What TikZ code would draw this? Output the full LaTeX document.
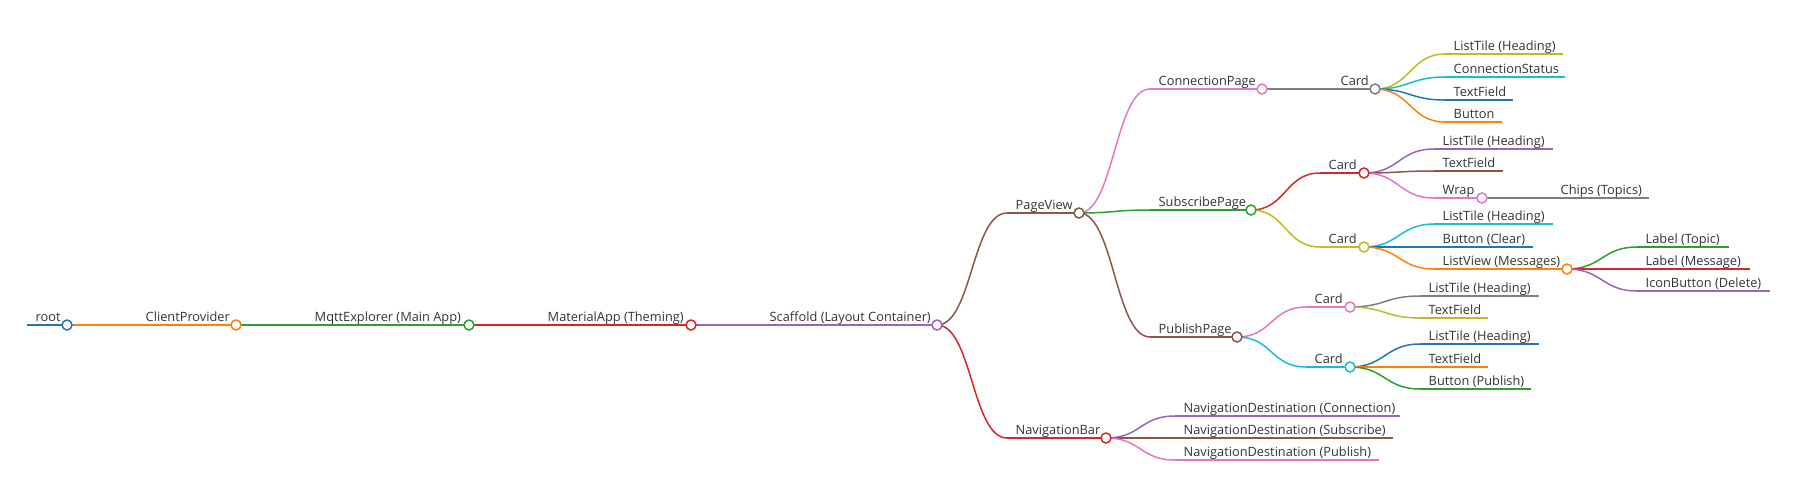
\documentclass[tikz,border=0pt]{standalone}
\usepackage{fontspec}
\setmainfont{Open Sans}
\usetikzlibrary{calc}

\definecolor{mmblue}{HTML}{1F77B4}
\definecolor{mmorange}{HTML}{FF7F0E}
\definecolor{mmgreen}{HTML}{2CA02C}
\definecolor{mmred}{HTML}{D62728}
\definecolor{mmpurple}{HTML}{9467BD}
\definecolor{mmbrown}{HTML}{8C564B}
\definecolor{mmpink}{HTML}{E377C2}
\definecolor{mmgray}{HTML}{7F7F7F}
\definecolor{mmolive}{HTML}{BCBD22}
\definecolor{mmcyan}{HTML}{17BECF}
\definecolor{mmink}{HTML}{333333}

\tikzset{
  mmline/.style={line width=1.5pt},
  mmtext/.style={anchor=base west, inner sep=0pt, text=mmink, font=\fontsize{12.8}{14}\selectfont},
  mmdot/.style={circle, draw, fill=white, line width=1.5pt, inner sep=0pt, minimum size=10pt},
}

% one entry of the map: name, colour, line start, line end, y, label
\newcommand{\mmitem}[6]{
  \coordinate (#1-s) at (#3,#5);
  \coordinate (#1-e) at (#4,#5);
  \draw[mmline,#2] (#1-s) -- (#1-e);
  \node[mmtext] (#1) at ($(#1-s)+(8.5,-3.5)$) {#6};
}
\newcommand{\mmlink}[3]{
  \draw[mmline,#3] (#1-e) .. controls ($(#1-e)+(35,0)$) and ($(#2-s)-(35,0)$) .. (#2-s);
}
\newcommand{\mmknot}[2]{\node[mmdot,draw=#2] (#1-dot) at (#1-e) {};}

\begin{document}
\begin{tikzpicture}[x=1pt,y=-1pt]
  \useasboundingbox (0,0) rectangle (1793,499);

  % main chain
  \mmitem{root}{mmblue}{27}{67}{325}{root}
  \mmitem{client}{mmorange}{137}{236}{325}{ClientProvider}
  \mmitem{mqtt}{mmgreen}{306}{469}{325}{MqttExplorer (Main App)}
  \mmitem{material}{mmred}{539}{691}{325}{MaterialApp (Theming)}
  \mmitem{scaffold}{mmpurple}{761}{937}{325}{Scaffold (Layout Container)}
  \mmitem{pageview}{mmbrown}{1007}{1079}{213}{PageView}
  \mmitem{navbar}{mmred}{1007}{1106}{438}{NavigationBar}

  % pages
  \mmitem{connpage}{mmpink}{1150}{1262}{89}{ConnectionPage}
  \mmitem{subpage}{mmgreen}{1150}{1251}{210}{SubscribePage}
  \mmitem{pubpage}{mmbrown}{1150}{1237}{337}{PublishPage}

  % connection page
  \mmitem{conncard}{mmgray}{1332}{1375}{89}{Card}
  \mmitem{c-list}{mmolive}{1445}{1563}{54}{ListTile (Heading)}
  \mmitem{c-status}{mmcyan}{1445}{1565}{77}{ConnectionStatus}
  \mmitem{c-text}{mmblue}{1445}{1513}{100}{TextField}
  \mmitem{c-button}{mmorange}{1445}{1502}{122}{Button}

  % subscribe page
  \mmitem{subcard1}{mmred}{1320}{1364}{173}{Card}
  \mmitem{s1-list}{mmpurple}{1434}{1553}{149}{ListTile (Heading)}
  \mmitem{s1-text}{mmbrown}{1434}{1503}{171}{TextField}
  \mmitem{s1-wrap}{mmpink}{1434}{1482}{198}{Wrap}
  \mmitem{chips}{mmgray}{1552}{1649}{198}{Chips (Topics)}
  \mmitem{subcard2}{mmolive}{1320}{1364}{247}{Card}
  \mmitem{s2-list}{mmcyan}{1434}{1553}{224}{ListTile (Heading)}
  \mmitem{s2-clear}{mmblue}{1434}{1533}{247}{Button (Clear)}
  \mmitem{s2-msgs}{mmorange}{1434}{1567}{269}{ListView (Messages)}
  \mmitem{lbl-topic}{mmgreen}{1637}{1729}{247}{Label (Topic)}
  \mmitem{lbl-msg}{mmred}{1637}{1750}{269}{Label (Message)}
  \mmitem{lbl-del}{mmpurple}{1637}{1770}{291}{IconButton (Delete)}

  % publish page
  \mmitem{pubcard1}{mmpink}{1306}{1350}{307}{Card}
  \mmitem{p1-list}{mmgray}{1420}{1539}{296}{ListTile (Heading)}
  \mmitem{p1-text}{mmolive}{1420}{1488}{318}{TextField}
  \mmitem{pubcard2}{mmcyan}{1306}{1350}{367}{Card}
  \mmitem{p2-list}{mmblue}{1420}{1539}{344}{ListTile (Heading)}
  \mmitem{p2-text}{mmorange}{1420}{1488}{367}{TextField}
  \mmitem{p2-btn}{mmgreen}{1420}{1531}{389}{Button (Publish)}

  % navigation bar
  \mmitem{nav-conn}{mmpurple}{1175}{1400}{416}{NavigationDestination (Connection)}
  \mmitem{nav-sub}{mmbrown}{1175}{1393}{438}{NavigationDestination (Subscribe)}
  \mmitem{nav-pub}{mmpink}{1175}{1379}{460}{NavigationDestination (Publish)}

  % links
  \mmlink{root}{client}{mmorange}
  \mmlink{client}{mqtt}{mmgreen}
  \mmlink{mqtt}{material}{mmred}
  \mmlink{material}{scaffold}{mmpurple}
  \mmlink{scaffold}{pageview}{mmbrown}
  \mmlink{scaffold}{navbar}{mmred}
  \mmlink{pageview}{connpage}{mmpink}
  \mmlink{pageview}{subpage}{mmgreen}
  \mmlink{pageview}{pubpage}{mmbrown}
  \mmlink{connpage}{conncard}{mmgray}
  \mmlink{conncard}{c-list}{mmolive}
  \mmlink{conncard}{c-status}{mmcyan}
  \mmlink{conncard}{c-text}{mmblue}
  \mmlink{conncard}{c-button}{mmorange}
  \mmlink{subpage}{subcard1}{mmred}
  \mmlink{subpage}{subcard2}{mmolive}
  \mmlink{subcard1}{s1-list}{mmpurple}
  \mmlink{subcard1}{s1-text}{mmbrown}
  \mmlink{subcard1}{s1-wrap}{mmpink}
  \mmlink{s1-wrap}{chips}{mmgray}
  \mmlink{subcard2}{s2-list}{mmcyan}
  \mmlink{subcard2}{s2-clear}{mmblue}
  \mmlink{subcard2}{s2-msgs}{mmorange}
  \mmlink{s2-msgs}{lbl-topic}{mmgreen}
  \mmlink{s2-msgs}{lbl-msg}{mmred}
  \mmlink{s2-msgs}{lbl-del}{mmpurple}
  \mmlink{pubpage}{pubcard1}{mmpink}
  \mmlink{pubpage}{pubcard2}{mmcyan}
  \mmlink{pubcard1}{p1-list}{mmgray}
  \mmlink{pubcard1}{p1-text}{mmolive}
  \mmlink{pubcard2}{p2-list}{mmblue}
  \mmlink{pubcard2}{p2-text}{mmorange}
  \mmlink{pubcard2}{p2-btn}{mmgreen}
  \mmlink{navbar}{nav-conn}{mmpurple}
  \mmlink{navbar}{nav-sub}{mmbrown}
  \mmlink{navbar}{nav-pub}{mmpink}

  % knots on the inner entries
  \mmknot{root}{mmblue}
  \mmknot{client}{mmorange}
  \mmknot{mqtt}{mmgreen}
  \mmknot{material}{mmred}
  \mmknot{scaffold}{mmpurple}
  \mmknot{pageview}{mmbrown}
  \mmknot{navbar}{mmred}
  \mmknot{connpage}{mmpink}
  \mmknot{subpage}{mmgreen}
  \mmknot{pubpage}{mmbrown}
  \mmknot{conncard}{mmgray}
  \mmknot{subcard1}{mmred}
  \mmknot{s1-wrap}{mmpink}
  \mmknot{subcard2}{mmolive}
  \mmknot{s2-msgs}{mmorange}
  \mmknot{pubcard1}{mmpink}
  \mmknot{pubcard2}{mmcyan}
\end{tikzpicture}
\end{document}
